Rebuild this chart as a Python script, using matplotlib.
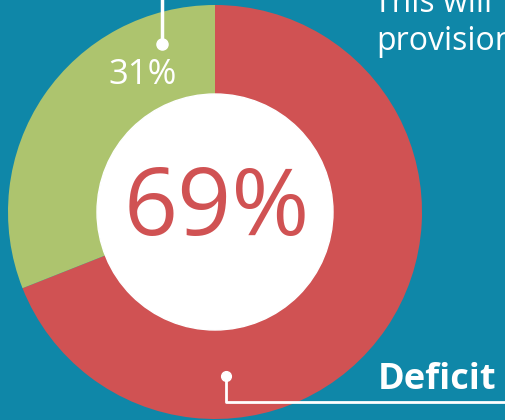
import matplotlib.pyplot as plt
from matplotlib.patches import Circle

# Datos del gráfico
labels = ["Deficit", "Other"]
values = [69, 31]
colors = ["#d05253", "#adc46e"]
center_label = "69%"
small_label = "31%"
caption_lines = ["This will", "provision"]

bg = "#0f87a8"

fig = plt.figure(figsize=(5.05, 4.2), dpi=100)
fig.patch.set_facecolor(bg)
ax = fig.add_axes([0, 0, 1, 1])
ax.set_facecolor(bg)

cx, cy, r_out, r_in = 215, 212, 207, 118

ax.pie(values, colors=colors, startangle=270, counterclock=True,
       center=(cx, cy), radius=r_out, frame=True,
       wedgeprops=dict(width=r_out - r_in, linewidth=0))
ax.add_patch(Circle((cx, cy), r_in, color="white", zorder=3))
ax.set_xlim(0, 505)
ax.set_ylim(420, 0)
ax.set_aspect("equal")
ax.axis("off")

font = "Open Sans"
ax.text(cx + 2, 211, center_label, color=colors[0], fontsize=68, family=font,
        ha="center", va="center", zorder=4)
ax.text(143, 75, small_label, color="white", fontsize=25, family=font,
        ha="center", va="center", zorder=4)
ax.text(437, 380, labels[0], color="white", fontsize=26, family=font,
        fontweight="bold", ha="center", va="center", zorder=4)

# texto superior derecho (cortado por el borde)
ax.text(374, 12, caption_lines[0], color="white", fontsize=23, family=font,
        ha="left", va="baseline", zorder=4, clip_on=True)
ax.text(376, 50, caption_lines[1], color="white", fontsize=23, family=font,
        ha="left", va="baseline", zorder=4, clip_on=True)

# líneas indicadoras
ax.plot([162, 162], [0, 44], color="white", lw=2.5, zorder=5)
ax.plot([162], [44], "o", color="white", ms=8, zorder=5)
ax.plot([226, 226, 505], [376, 402, 402], color="white", lw=2, zorder=5)
ax.plot([226], [376], "o", color="white", ms=7, zorder=5)

fig.savefig("out.png", dpi=100, facecolor=bg)
